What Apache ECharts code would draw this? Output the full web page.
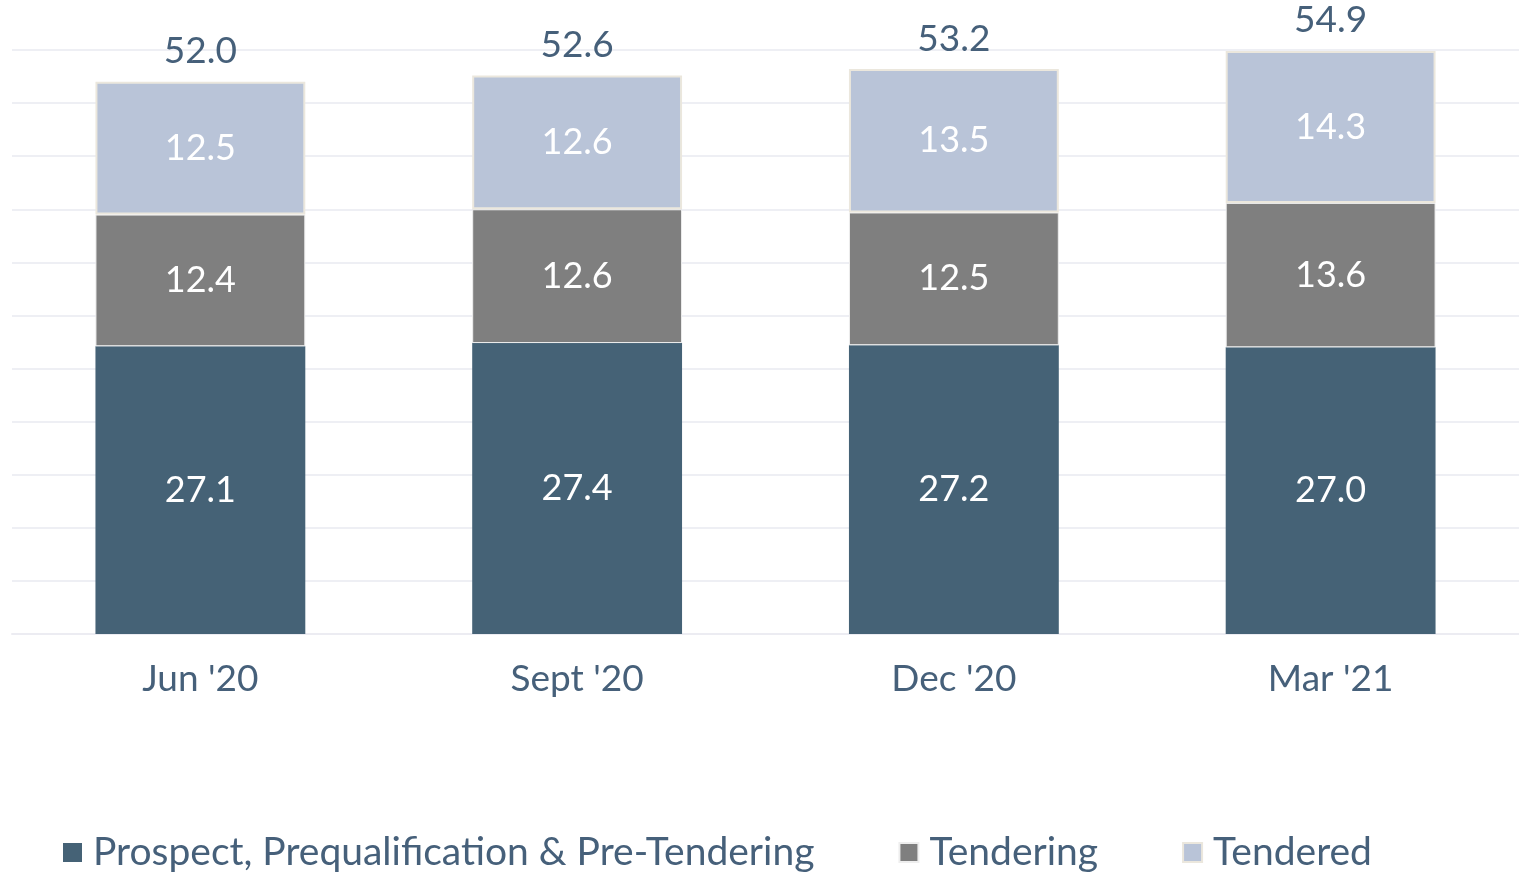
<!DOCTYPE html>
<html>
<head>
<meta charset="utf-8">
<script src="https://cdn.jsdelivr.net/npm/echarts@6/dist/echarts.min.js"></script>
<style>html,body{margin:0;padding:0;background:#fff;}#c{width:1519px;height:872px;}</style>
</head>
<body>
<div id="c"></div>
<script>
const categories = ["Jun '20", "Sept '20", "Dec '20", "Mar '21"];
const prospect = [27.1, 27.4, 27.2, 27.0];
const tendering = [12.4, 12.6, 12.5, 13.6];
const tendered = [12.5, 12.6, 13.5, 14.3];
const totals = [52.0, 52.6, 53.2, 54.9];
const seriesNames = ['Prospect, Prequalification & Pre-Tendering', 'Tendering', 'Tendered'];

const textColor = '#46607a';
const font = 'Lato';
const chart = echarts.init(document.getElementById('c'));
const inLabel = {show: true, position: 'inside', color: '#fff', fontSize: 36, fontFamily: font,
  formatter: p => p.value.toFixed(1)};
chart.setOption({
  animation: false,
  grid: {left: 12, right: 0, top: 50, bottom: 238, containLabel: false},
  legend: {
    top: 828, left: 58, itemWidth: 19, itemHeight: 19, itemGap: 84,
    icon: 'rect',
    textStyle: {color: textColor, fontSize: 39, fontFamily: font, padding: [0, 0, 0, 6]},
    data: seriesNames
  },
  xAxis: {
    type: 'category', data: categories,
    axisLine: {show: true, lineStyle: {color: '#ececf2', width: 2}},
    axisTick: {show: false},
    axisLabel: {color: textColor, fontSize: 37, fontFamily: font, margin: 27}
  },
  yAxis: {
    type: 'value', min: 0, max: 55, interval: 5,
    axisLabel: {show: false}, axisLine: {show: false}, axisTick: {show: false},
    splitLine: {lineStyle: {color: '#eeeff4', width: 2}}
  },
  series: [
    {name: seriesNames[0], type: 'bar', stack: 't', data: prospect, barWidth: '55.7%',
      itemStyle: {color: '#456276'}, label: inLabel},
    {name: seriesNames[1], type: 'bar', stack: 't', data: tendering,
      itemStyle: {color: '#7f7f7f', borderColor: '#eeeeee', borderWidth: 1}, label: inLabel},
    {name: seriesNames[2], type: 'bar', stack: 't', data: tendered,
      itemStyle: {color: '#b9c4d8', borderColor: '#ebe7dd', borderWidth: 2}, label: inLabel},
    {name: 'Total', type: 'bar', stack: 't', data: totals.map(() => 0), silent: true,
      itemStyle: {color: 'transparent'},
      label: {show: true, position: 'top', distance: 12, color: textColor, fontSize: 37, fontFamily: font,
        formatter: p => totals[p.dataIndex].toFixed(1)}}
  ]
});
</script>
</body>
</html>
